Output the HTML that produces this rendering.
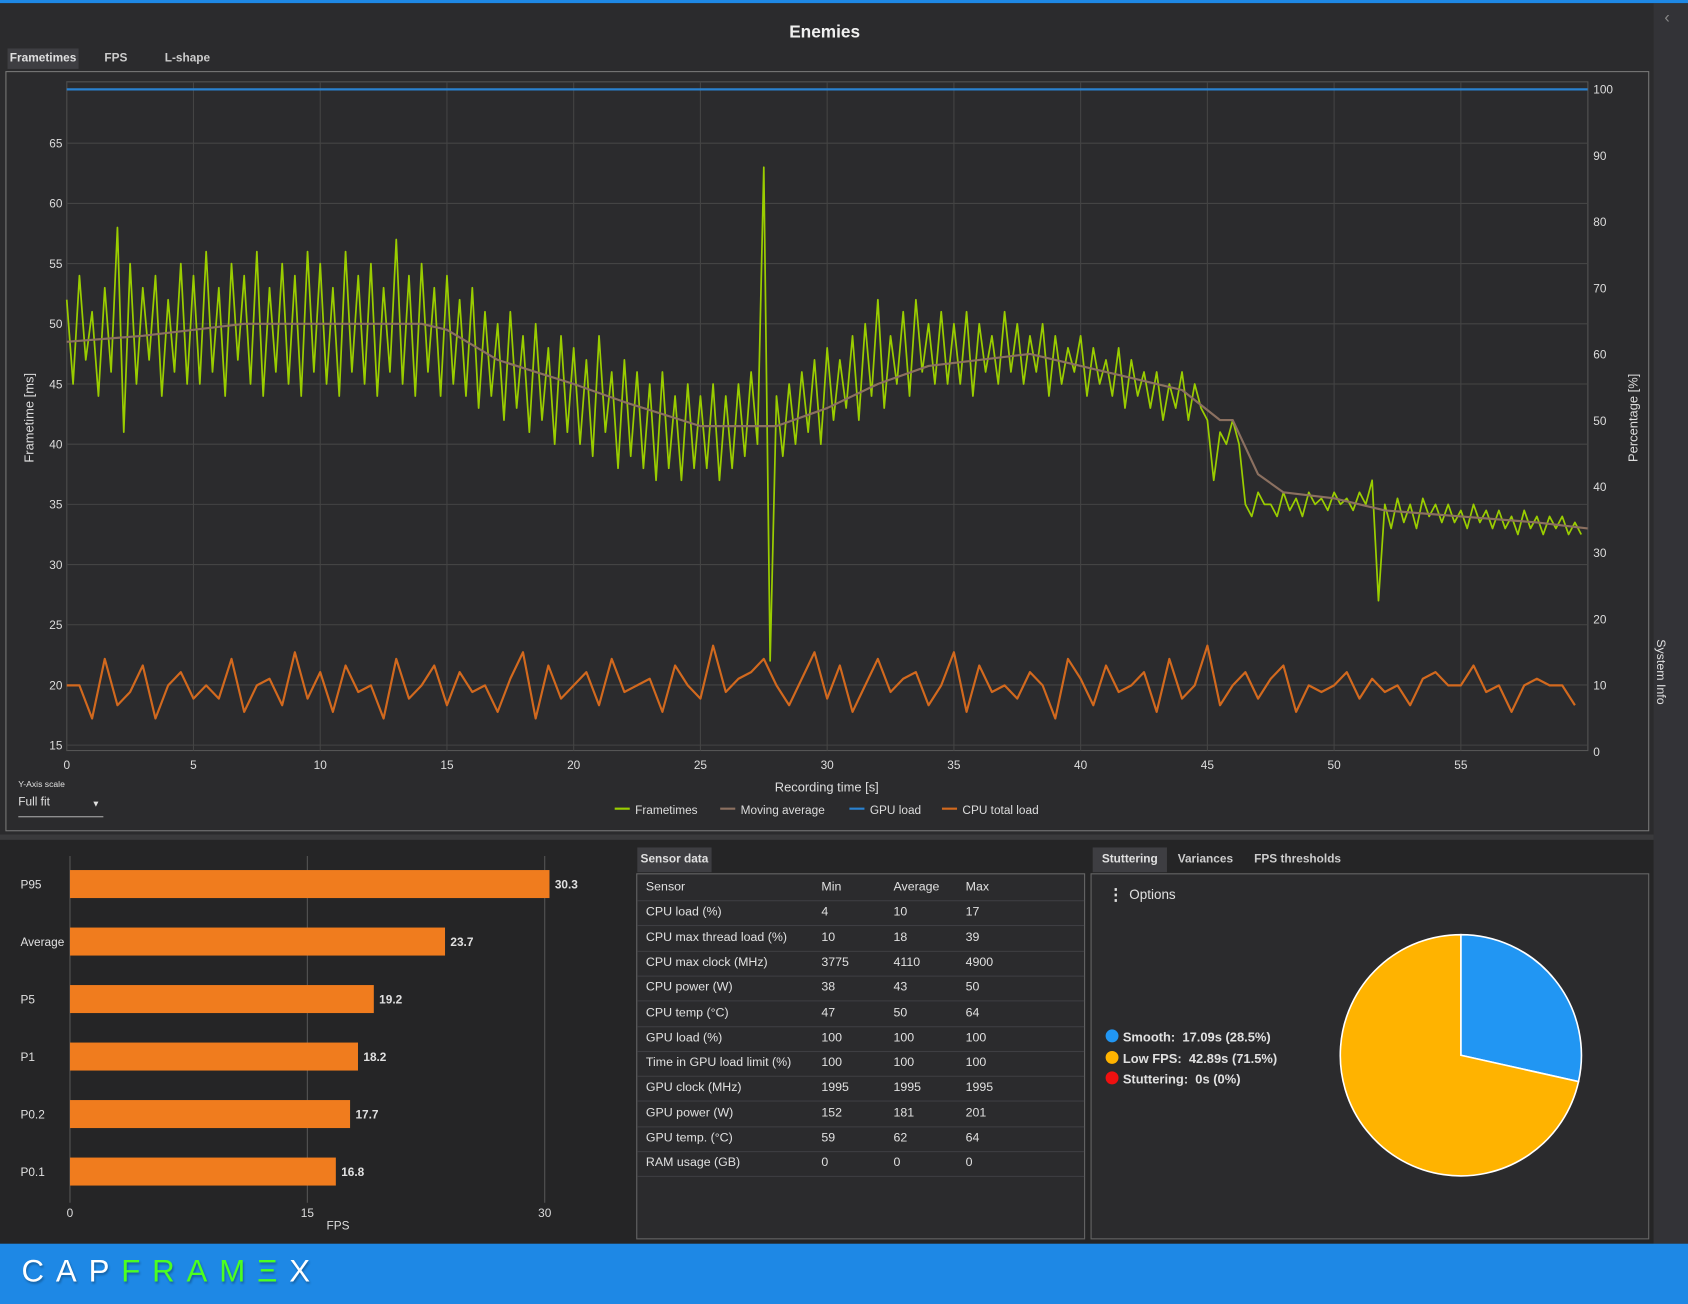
<!DOCTYPE html>
<html><head><meta charset="utf-8">
<style>
html,body{margin:0;padding:0;width:1688px;height:1304px;overflow:hidden;background:#252526;font-family:"Liberation Sans",sans-serif;}
#wrap{position:absolute;left:0;top:0;width:1568px;height:1211px;transform:scale(1.07653,1.07680);transform-origin:0 0;background:#252526;color:#ddd;}
.abs{position:absolute;}
.t{position:absolute;font-size:12px;color:#e0e0e0;white-space:nowrap;}
</style></head><body>
<div id="wrap">
<div class="abs" style="left:0;top:0;width:1568px;height:3px;background:#1e88e5"></div>
<div class="abs" style="left:0;top:3px;width:1536px;height:772px;background:#2b2b2d"></div>
<div class="t" style="left:0;width:1532px;top:22px;text-align:center;font-size:16px;font-weight:bold;color:#f0f0f0">Enemies</div>
<div class="t" style="left:7px;top:45px;width:66px;height:19px;background:#3e3e42;font-size:11px;font-weight:bold;line-height:19px;text-align:center">Frametimes</div>
<div class="t" style="left:97px;top:48px;font-size:11px;font-weight:bold;color:#ccc">FPS</div>
<div class="t" style="left:153px;top:48px;font-size:11px;font-weight:bold;color:#ccc">L-shape</div>
<div class="abs" style="left:5px;top:66px;width:1525px;height:704px;border:1px solid #777"></div>
<svg class="abs" style="left:0;top:0" width="1568" height="775" id="main"></svg>
<div class="t" style="left:17px;top:724px;font-size:8px">Y-Axis scale</div>
<div class="t" style="left:17px;top:739px;width:79px;height:19px;border-bottom:1px solid #aaa;font-size:11px">Full fit<span style="position:absolute;right:3px;top:3px;font-size:8px">&#9660;</span></div>
<div class="abs" style="left:0;top:775px;width:1536px;height:5px;background:#3a3a3c"></div>
<div class="abs" style="left:0;top:780px;width:1536px;height:375px;background:#252526"></div>
<svg class="abs" style="left:0;top:780px" width="590" height="375" id="bars"></svg>
<div class="t" style="left:592px;top:787px;width:69px;height:23px;background:#3e3e42;font-size:11px;font-weight:bold;line-height:23px;text-align:center">Sensor data</div>
<div class="abs" style="left:591px;top:811px;width:415px;height:338px;border:1px solid #666;background:#2b2b2d" id="sensor"></div>
<div class="t" style="left:1015px;top:787px;width:69px;height:23px;background:#3e3e42;font-size:11px;font-weight:bold;line-height:23px;text-align:center">Stuttering</div>
<div class="t" style="left:1094px;top:792px;font-size:11px;font-weight:bold;color:#ccc">Variances</div>
<div class="t" style="left:1165px;top:792px;font-size:11px;font-weight:bold;color:#ccc">FPS thresholds</div>
<div class="abs" style="left:1013px;top:811px;width:517px;height:338px;border:1px solid #666;background:#2b2b2d"></div>
<div class="t" style="left:1029px;top:822px;font-size:15px;font-weight:bold">&#8942;</div>
<div class="t" style="left:1049px;top:824px;font-size:12.5px">Options</div>
<div class="t" style="left:1027px;top:954px;font-size:12px;font-weight:bold;line-height:19.5px">
<div><span style="display:inline-block;width:12px;height:12px;border-radius:6px;background:#2196f3;vertical-align:-1px;margin-right:4px"></span>Smooth:&nbsp; 17.09s (28.5%)</div>
<div><span style="display:inline-block;width:12px;height:12px;border-radius:6px;background:#ffb300;vertical-align:-1px;margin-right:4px"></span>Low FPS:&nbsp; 42.89s (71.5%)</div>
<div><span style="display:inline-block;width:12px;height:12px;border-radius:6px;background:#f01010;vertical-align:-1px;margin-right:4px"></span>Stuttering:&nbsp; 0s (0%)</div>
</div>
<svg class="abs" style="left:1240px;top:862px" width="240" height="240" id="pie"></svg>
<div class="abs" style="left:1536px;top:3px;width:32px;height:1152px;background:#333337"></div>
<div class="t" style="left:1546px;top:8px;font-size:15px;color:#888">&lsaquo;</div>
<div class="t" style="left:1512px;top:618px;transform:rotate(90deg);font-size:11.5px">System Info</div>
<div class="abs" style="left:0;top:1155px;width:1568px;height:56px;background:#1e88e5"></div>
<div class="t" style="left:20px;top:1165px;font-size:29px;letter-spacing:11px;color:#fff;text-shadow:1px 2px 2px rgba(0,0,0,.3)">CAP<span style="color:#4cff20">FRAM&#926;</span>X</div>
</div>
<script>
// ---- main chart data ----
const ftStep = 0.25;
const frametimes = [
52,45,54,47,51,44,53,46,58,41,55,45,53,47,54,44,52,46,55,45,
54,45,56,46,53,44,55,47,54,45,56,44,53,46,55,45,54,44,56,46,
55,45,53,44,56,46,54,45,55,44,53,46,57,45,54,44,55,46,53,44,
54,45,52,44,53,43,51,44,50,42,51,43,49,41,50,42,48,40,49,41,
48,40,47,39,49,41,46,38,47,39,46,38,45,37,46,38,44,37,45,38,
44,38,45,37,44,38,45,39,46,40,63,22,44,39,45,40,46,41,47,40,
48,42,47,43,49,42,50,44,52,43,49,45,51,44,52,46,50,45,51,45,
50,45,51,44,50,46,49,45,51,46,50,45,49,46,50,44,49,45,48,46,
49,44,48,45,47,44,48,43,47,44,46,43,46,42,45,43,46,42,45,43,
42,37,41,40,42,40,35,34,36,35,35,34,36,34.5,35.5,34,36,35,35.5,34.5,
36,35,35.5,34.5,36,35,37,27,35,33,35.5,33.5,35,33,35.5,34,35,33.5,35,33.5,
34.5,33,35,33.5,34.5,33,34.5,33,34,32.5,34.5,33,34,32.5,34,33,34,32.5,33.5,32.5];
const maTimes = [0,3,5,7,10,14,15,17,20,22,25,28,30,32,34,36,38,40,42,44,45.5,46,47,48,50,52,55,58,60];
const movingAvg = [48.5,49,49.5,50,50,50,49.5,47,45,43.5,41.5,41.5,43,45,46.5,47,47.5,46.5,45.5,44.5,42,42,37.5,36,35.5,34.5,34,33.5,33];
const cpuLoad = [10,10,5,14,7,9,13,5,10,12,8,10,8,14,6,10,11,7,15,8,
12,6,13,9,10,5,14,8,10,13,7,12,9,10,6,11,15,5,13,8,
10,12,7,14,9,10,11,6,13,10,8,16,9,11,12,14,10,7,11,15,
8,13,6,10,14,9,11,12,7,10,15,6,13,9,10,8,12,10,5,14,
11,7,13,9,10,12,6,14,8,10,16,7,10,12,8,11,13,6,10,9,
10,12,8,11,9,10,7,11,12,10,10,13,9,10,6,10,11,10,10,7];
const gpuLoad = [100,100];
const xTicks=[0,5,10,15,20,25,30,35,40,45,50,55];
const yTicks=[15,20,25,30,35,40,45,50,55,60,65];
const y2Ticks=[0,10,20,30,40,50,60,70,80,90,100];
const PL=62,PR=1475,PT=76,PB=697;
const xs=t=>PL+t*(1357-PL)/55;
const ys=v=>692-(v-15)*(692-133)/50;
const y2=v=>698-v*(698-83)/100;
const NS='http://www.w3.org/2000/svg';
function mk(parent,tag,attrs){const e=document.createElementNS(NS,tag);for(const k in attrs)e.setAttribute(k,attrs[k]);parent.appendChild(e);return e;}
const svg=document.getElementById('main');
let bg=mk(svg,'rect',{x:PL,y:PT,width:PR-PL,height:PB-PT,fill:'#2b2b2d',stroke:'#555'});


xTicks.forEach(t=>{const x=xs(t);
 const g=mk(svg,'line',{x1:x,x2:x,y1:PT,y2:PB,stroke:'#444'});
 
 
 const tx=mk(svg,'text',{x:x,y:714,fill:'#ddd','font-size':11,'text-anchor':'middle','font-family':'Liberation Sans'});tx.textContent=t;
 
 });
yTicks.forEach(v=>{const y=ys(v);
 const g=mk(svg,'line',{x1:PL,x2:PR,y1:y,y2:y,stroke:'#444'});
 
 
 const tx=mk(svg,'text',{x:58,y:y+4,fill:'#ddd','font-size':11,'text-anchor':'end','font-family':'Liberation Sans'});tx.textContent=v;
 
 });
y2Ticks.forEach(v=>{const tx=mk(svg,'text',{x:1480,y:y2(v)+4,fill:'#ddd','font-size':11,'font-family':'Liberation Sans'});tx.textContent=v;
 
 });
function lbl(txt,x,y,rot,name){const t=mk(svg,'text',{x:x,y:y,fill:'#ddd','font-size':12,'text-anchor':'middle','font-family':'Liberation Sans',transform:rot?`rotate(${rot} ${x} ${y})`:''});t.textContent=txt;
 
 }
lbl('Recording time [s]',768,735,0,'x-axis-title');
lbl('Frametime [ms]',31,388,-90,'y-axis-title');
lbl('Percentage [%]',1521,388,-90,'y2-axis-title');
function poly(xsArr,ysArr,color,w,name){const p=mk(svg,'polyline',{points:xsArr.map((x,i)=>x+','+ysArr[i]).join(' '),fill:'none',stroke:color,'stroke-width':w,'stroke-linejoin':'round'});
 
 }
const cpuT=cpuLoad.map((_,i)=>i*0.5);
poly(cpuT.map(xs),cpuLoad.map(y2),'#d2691e',2,'cpu-load-line');
poly([0,60].map(xs),gpuLoad.map(y2),'#2a82d0',2,'gpu-load-line');
const ftT=frametimes.map((_,i)=>i*ftStep);
poly(ftT.map(xs),frametimes.map(ys),'#9acd00',1.6,'frametimes-line');
poly(maTimes.map(xs),movingAvg.map(ys),'#8b7060',2,'moving-average-line');
const leg=[['Frametimes','#9acd00',571],['Moving average','#8b7060',669],['GPU load','#2a82d0',789],['CPU total load','#d2691e',875]];
leg.forEach(([n,c,x])=>{const l=mk(svg,'line',{x1:x,x2:x+14,y1:751,y2:751,stroke:c,'stroke-width':2});
 
 
 const t=mk(svg,'text',{x:x+19,y:756,fill:'#ddd','font-size':11,'font-family':'Liberation Sans'});t.textContent=n;
 
 });

// ---- bar chart ----
const barCats=['P95','Average','P5','P1','P0.2','P0.1'];
const barVals=[30.3,23.7,19.2,18.2,17.7,16.8];
const barTicks=[0,15,30];
const bsvg=document.getElementById('bars');
const bx=v=>65+v*(506-65)/30;
barTicks.forEach(v=>{const g=mk(bsvg,'line',{x1:bx(v),x2:bx(v),y1:15,y2:337,stroke:'#555'});
 
 
 const t=mk(bsvg,'text',{x:bx(v),y:350,fill:'#ddd','font-size':11,'text-anchor':'middle','font-family':'Liberation Sans'});t.textContent=v;
 
 });
const ft=mk(bsvg,'text',{x:314,y:362,fill:'#ddd','font-size':11,'text-anchor':'middle','font-family':'Liberation Sans'});ft.textContent='FPS';


barCats.forEach((c,i)=>{const cy=41+i*53.4;
 const r=mk(bsvg,'rect',{x:65,y:cy-13,width:bx(barVals[i])-65,height:26,fill:'#f07c1e'});
 
 
 const l=mk(bsvg,'text',{x:19,y:cy+4,fill:'#e0e0e0','font-size':11,'font-family':'Liberation Sans'});l.textContent=c;
 
 
 const v=mk(bsvg,'text',{x:bx(barVals[i])+5,y:cy+4,fill:'#e0e0e0','font-size':11,'font-weight':'bold','font-family':'Liberation Sans'});v.textContent=barVals[i];
 
 });

// ---- sensor table ----
const sensorRows=[['Sensor','Min','Average','Max'],['CPU load (%)','4','10','17'],['CPU max thread load (%)','10','18','39'],['CPU max clock (MHz)','3775','4110','4900'],['CPU power (W)','38','43','50'],['CPU temp (°C)','47','50','64'],['GPU load (%)','100','100','100'],['Time in GPU load limit (%)','100','100','100'],['GPU clock (MHz)','1995','1995','1995'],['GPU power (W)','152','181','201'],['GPU temp. (°C)','59','62','64'],['RAM usage (GB)','0','0','0']];
const st=document.getElementById('sensor');
const colX=[8,171,238,305];
sensorRows.forEach((r,i)=>{const row=document.createElement('div');
 
 
 row.style.cssText=`position:absolute;left:0;top:${i*23.3+1}px;width:415px;height:23px;border-bottom:1px solid #3e3e42;`;
 r.forEach((c,j)=>{const s=document.createElement('span');s.textContent=c;s.style.cssText=`position:absolute;left:${colX[j]}px;top:5px;font-size:11.5px;color:#e0e0e0;white-space:nowrap;`;row.appendChild(s);});
 st.appendChild(row);});

// ---- pie ----
const pieLabels=['Smooth','Low FPS','Stuttering'];
const pieVals=[28.5,71.5,0];
const pieColors=['#2196f3','#ffb300','#f01010'];
const psvg=document.getElementById('pie');
let a0=0;const cx=117,cy=118,R=112;
pieVals.forEach((v,i)=>{if(v<=0)return;const a1=a0+v/100*2*Math.PI;
 const p=[cx+R*Math.sin(a0),cy-R*Math.cos(a0),cx+R*Math.sin(a1),cy-R*Math.cos(a1)];
 const s=mk(psvg,'path',{d:`M${cx},${cy} L${p[0]},${p[1]} A${R},${R} 0 ${v>50?1:0} 1 ${p[2]},${p[3]} Z`,fill:pieColors[i],stroke:'#fff','stroke-width':1.5});
 
 
 a0=a1;});
</script>
</body></html>
